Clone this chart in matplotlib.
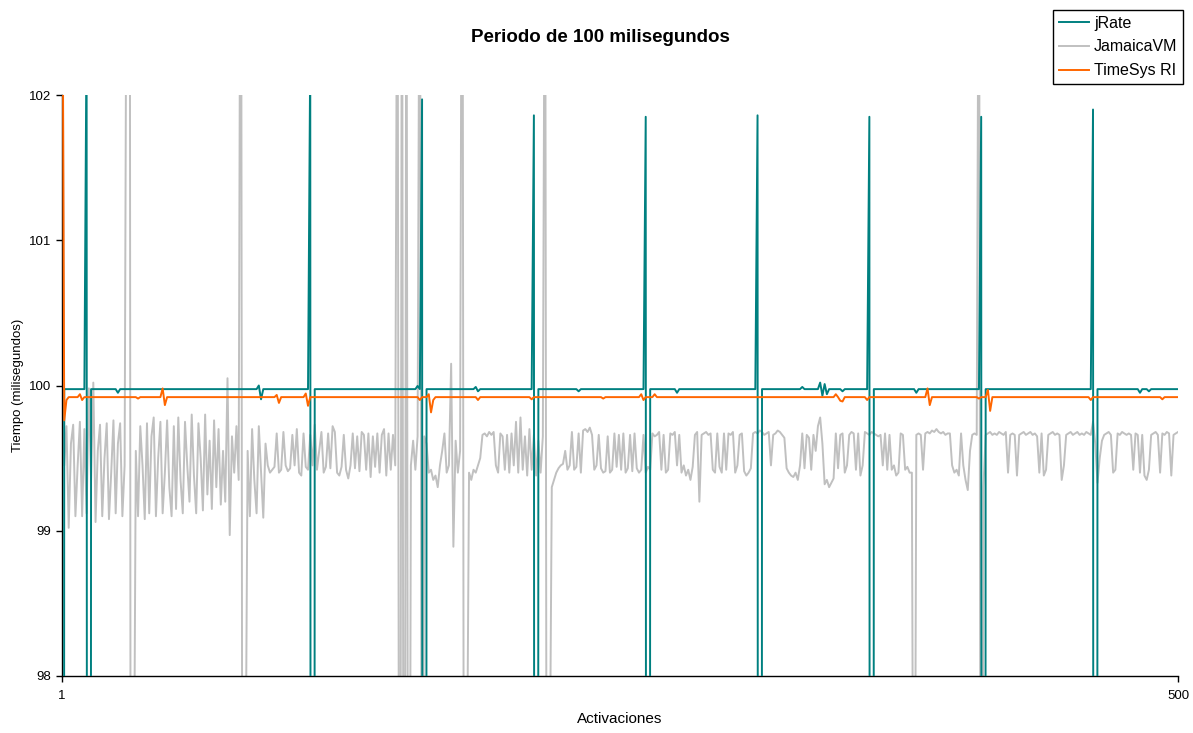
import numpy as np
import matplotlib
matplotlib.use("Agg")
import matplotlib.pyplot as plt

plt.rcParams['font.family'] = ['Liberation Sans', 'DejaVu Sans']

title = "Periodo de 100 milisegundos"
xlabel = "Activaciones"
ylabel = "Tiempo (milisegundos)"
series_names = ["jRate", "JamaicaVM", "TimeSys RI"]
n_activations = 500
x_ticks = [1, 500]
y_ticks = [98, 99, 100, 101, 102]

# jRate: steady level plus the read-off deviations
jrate_base = 99.975
jrate_event_acts = [1, 12, 13, 26, 89, 90, 112, 113, 160, 162, 163, 186, 187, 212, 213, 232,
                    262, 263, 276, 312, 313, 332, 340, 341, 342, 343, 350, 362, 363, 383,
                    412, 413, 462, 463, 483, 487]
jrate_event_vals = [60.0, 102.5, 60.0, 99.95, 100.0, 99.905, 102.3, 60.0, 99.997, 101.97, 60.0, 99.99, 99.96,
                    101.86, 60.0, 99.96, 101.85, 60.0, 99.95, 101.86, 60.0, 99.99, 100.02, 99.93, 100.01, 99.94,
                    99.96, 101.85, 60.0, 99.95, 101.85, 60.0, 101.90, 60.0, 99.95, 99.96]

# TimeSys RI: steady level plus the read-off deviations
timesys_base = 99.92
timesys_event_acts = [1, 2, 3, 9, 10, 35, 46, 47, 97, 98, 110, 111, 161, 165, 166, 167, 187, 211, 243,
                      260, 261, 266, 347, 349, 350, 361, 388, 389, 411, 415, 416, 461, 493]
timesys_event_vals = [104.0, 99.76, 99.90, 99.94, 99.90, 99.91, 99.98, 99.865, 99.935, 99.88, 99.945, 99.86,
                      99.90, 99.94, 99.815, 99.90, 99.90, 99.905, 99.91, 99.94, 99.90, 99.94, 99.94, 99.895,
                      99.89, 99.90, 99.98, 99.865, 99.91, 99.97, 99.825, 99.90, 99.905]

jamaica = [
    104.0, 99.45, 99.72, 99.02, 99.60, 99.73, 99.10, 99.45, 99.75, 99.10,
    99.70, 99.12, 99.98, 99.35, 100.02, 99.06, 99.55, 99.73, 99.10, 99.50,
    99.74, 99.08, 99.40, 99.76, 99.12, 99.60, 99.74, 99.10, 99.45, 104.0,
    110.0, 90.0, 96.5, 99.55, 99.10, 99.72, 99.45, 99.08, 99.74, 99.12,
    99.65, 99.78, 99.10, 99.50, 99.75, 99.12, 99.40, 99.76, 99.30, 99.10,
    99.72, 99.15, 99.78, 99.35, 99.12, 99.75, 99.45, 99.20, 99.80, 99.38,
    99.12, 99.74, 99.50, 99.14, 99.80, 99.25, 99.62, 99.15, 99.76, 99.30,
    99.70, 99.18, 99.55, 99.20, 100.05, 98.97, 99.65, 99.40, 99.72, 99.35,
    105.0, 91.0, 97.0, 99.55, 99.10, 99.70, 99.35, 99.12, 99.72, 99.40,
    99.09, 99.60, 99.45, 99.40, 99.42, 99.44, 99.67, 99.40, 99.42, 99.68,
    99.45, 99.41, 99.43, 99.66, 99.45, 99.70, 99.40, 99.38, 99.67, 99.44,
    99.42, 99.66, 99.45, 99.73, 99.42, 99.55, 99.68, 99.40, 99.44, 99.67,
    99.43, 99.72, 99.68, 99.40, 99.38, 99.44, 99.66, 99.42, 99.36, 99.45,
    99.67, 99.43, 99.65, 99.41, 99.68, 99.66, 99.42, 99.67, 99.37, 99.65,
    99.44, 99.67, 99.40, 99.66, 99.70, 99.38, 99.67, 99.42, 99.66, 99.45,
    104.0, 93.0, 104.0, 93.0, 104.0, 93.0, 99.45, 99.62, 99.42, 99.65,
    104.0, 95.0, 99.65, 99.60, 99.40, 99.42, 99.35, 99.38, 99.30, 99.45,
    99.55, 99.67, 99.40, 99.45, 100.15, 98.89, 99.62, 99.40, 99.55, 105.0,
    92.0, 97.0, 99.40, 99.35, 99.42, 99.40, 99.45, 99.50, 99.66, 99.67,
    99.65, 99.68, 99.66, 99.68, 99.45, 99.40, 99.67, 99.65, 99.42, 99.66,
    99.40, 99.67, 99.45, 99.75, 99.40, 99.78, 99.42, 99.65, 99.38, 99.70,
    99.42, 99.66, 99.38, 99.62, 99.40, 99.65, 104.0, 93.0, 97.0, 99.30,
    99.35, 99.40, 99.43, 99.45, 99.46, 99.55, 99.42, 99.45, 99.68, 99.42,
    99.44, 99.67, 99.40, 99.69, 99.70, 99.68, 99.71, 99.66, 99.42, 99.45,
    99.66, 99.43, 99.40, 99.41, 99.65, 99.40, 99.42, 99.67, 99.44, 99.66,
    99.42, 99.67, 99.40, 99.43, 99.66, 99.41, 99.67, 99.43, 99.40, 99.42,
    99.66, 99.40, 99.44, 99.42, 99.67, 99.65, 99.66, 99.68, 99.42, 99.66,
    99.40, 99.42, 99.67, 99.66, 99.68, 99.45, 99.66, 99.40, 99.45, 99.38,
    99.42, 99.35, 99.44, 99.66, 99.68, 99.20, 99.66, 99.67, 99.68, 99.66,
    99.67, 99.42, 99.40, 99.67, 99.44, 99.40, 99.67, 99.42, 99.67, 99.66,
    99.68, 99.40, 99.45, 99.66, 99.67, 99.41, 99.38, 99.40, 99.43, 99.67,
    99.68, 99.67, 99.69, 99.68, 99.66, 99.67, 99.68, 99.45, 99.66, 99.67,
    99.69, 99.68, 99.66, 99.64, 99.43, 99.40, 99.38, 99.37, 99.40, 99.35,
    99.45, 99.67, 99.43, 99.66, 99.64, 99.42, 99.66, 99.55, 99.72, 99.78,
    99.60, 99.32, 99.35, 99.30, 99.33, 99.36, 99.67, 99.43, 99.66, 99.67,
    99.40, 99.45, 99.66, 99.68, 99.67, 99.42, 99.67, 99.38, 99.45, 99.68,
    99.67, 99.66, 99.68, 99.67, 99.66, 99.65, 99.66, 99.45, 99.67, 99.42,
    99.66, 99.42, 99.45, 99.38, 99.40, 99.67, 99.66, 99.42, 99.44, 99.40,
    99.40, 95.0, 99.66, 99.67, 99.66, 99.42, 99.67, 99.68, 99.67, 99.69,
    99.68, 99.70, 99.68, 99.67, 99.68, 99.66, 99.67, 99.67, 99.45, 99.40,
    99.42, 99.38, 99.67, 99.45, 99.35, 99.28, 99.55, 99.66, 99.67, 99.66,
    104.0, 93.0, 99.30, 99.66, 99.67, 99.68, 99.66, 99.67, 99.66, 99.68,
    99.67, 99.66, 99.68, 99.40, 99.66, 99.67, 99.66, 99.38, 99.66, 99.67,
    99.68, 99.66, 99.67, 99.68, 99.66, 99.67, 99.65, 99.40, 99.67, 99.38,
    99.42, 99.66, 99.67, 99.68, 99.66, 99.67, 99.66, 99.35, 99.45, 99.66,
    99.67, 99.68, 99.66, 99.67, 99.68, 99.66, 99.67, 99.66, 99.68, 99.67,
    99.66, 99.75, 99.60, 99.33, 99.50, 99.62, 99.66, 99.67, 99.68, 99.66,
    99.40, 99.42, 99.67, 99.66, 99.68, 99.67, 99.66, 99.67, 99.66, 99.42,
    99.67, 99.66, 99.40, 99.66, 99.38, 99.35, 99.42, 99.66, 99.67, 99.68,
    99.66, 99.40, 99.67, 99.66, 99.68, 99.67, 99.38, 99.66, 99.67, 99.68,
]

colors = {"jRate": "#008080", "JamaicaVM": "#C0C0C0", "TimeSys RI": "#FF6600"}

x = np.arange(1, n_activations + 1)
jrate = np.full(n_activations, jrate_base)
jrate[np.array(jrate_event_acts) - 1] = jrate_event_vals
timesys = np.full(n_activations, timesys_base)
timesys[np.array(timesys_event_acts) - 1] = timesys_event_vals
jam = np.array(jamaica)

fig = plt.figure(figsize=(11.93, 7.33), dpi=100)
ax = fig.add_axes([62 / 1193, 1 - 676 / 733, (1178 - 62) / 1193, (676 - 95) / 733])

lw = 1.4
h_jam, = ax.plot(x, jam, color=colors["JamaicaVM"], lw=lw, zorder=2, label="JamaicaVM")
h_jr, = ax.plot(x, jrate, color=colors["jRate"], lw=lw, zorder=3, label="jRate")
h_ts, = ax.plot(x, timesys, color=colors["TimeSys RI"], lw=lw, zorder=4, label="TimeSys RI")

ax.set_xlim(1, 500)
ax.set_ylim(98, 102)
ax.set_xticks(x_ticks)
ax.set_yticks(y_ticks)
ax.tick_params(axis='both', direction='out', length=4, width=1, labelsize=9.5, colors='black')
ax.tick_params(axis='x', pad=6)
for s in ['top', 'right']:
    ax.spines[s].set_visible(False)
for s in ['left', 'bottom']:
    ax.spines[s].set_color('black')
    ax.spines[s].set_linewidth(1)

ax.set_xlabel(xlabel, fontsize=11, labelpad=7)
ax.set_ylabel(ylabel, fontsize=9.5, labelpad=4)
fig.text(600 / 1193, 1 - 38 / 733, title, fontsize=13.5, fontweight='bold', ha='center', va='center')

leg = fig.legend([h_jr, h_jam, h_ts], series_names, loc='upper right',
                 bbox_to_anchor=(1183 / 1193, 1 - 10 / 733), fontsize=11.5, frameon=True,
                 fancybox=False, edgecolor='black', framealpha=1, handlelength=1.9,
                 handletextpad=0.3, labelspacing=0.55, borderpad=0.35, borderaxespad=0)
leg.get_frame().set_linewidth(1)

fig.savefig("out.png", dpi=100)
